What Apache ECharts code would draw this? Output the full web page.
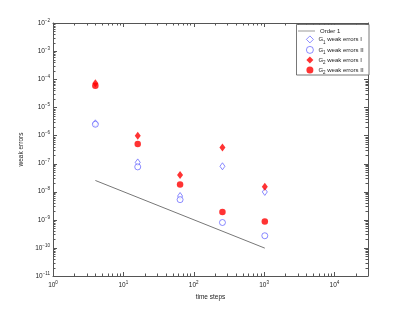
<!DOCTYPE html>
<html><head><meta charset="utf-8">
<script src="https://cdn.jsdelivr.net/npm/echarts@6/dist/echarts.min.js"></script>
<style>html,body{margin:0;padding:0;background:#fff}#c{width:407px;height:310px}</style>
</head><body><div id="c"></div>
<script>
const steps = [4, 16, 64, 256, 1024];
const g1WeakI  = [2.7e-6, 1.1e-7, 7.0e-9, 8.0e-8, 9.8e-9];
const g1WeakII = [2.5e-6, 7.6e-8, 5.2e-9, 8.0e-10, 2.7e-10];
const g2WeakI  = [7.2e-5, 9.8e-7, 3.9e-8, 3.7e-7, 1.5e-8];
const g2WeakII = [5.8e-5, 5.0e-7, 1.8e-8, 1.9e-9, 8.7e-10];
const orderX = [4, 1024];
const orderY = [2.5e-8, 9.8e-11];
const names = ['Order 1', 'G1 weak errors I', 'G1 weak errors II', 'G2 weak errors I', 'G2 weak errors II'];

const XMIN = 1, XMAX = 30000, YMIN = 1e-11, YMAX = 1e-2;
const FONT = 'Liberation Sans, Arial, sans-serif';
const AX = '#555';
const BLUE = '#4a4aff';

function pair(a, b) { return a.map((v, i) => [v, b[i]]); }
function expLabel(v) {
  const e = Math.round(Math.log10(v));
  return '{b|10}{s|' + (e < 0 ? '\u2212' + (-e) : e) + '}';
}
const richTick = {
  b: {fontSize: 6.5, fontFamily: FONT, color: '#222'},
  s: {fontSize: 4.5, fontFamily: FONT, color: '#222', verticalAlign: 'bottom', padding: [0, 0, 5, 0]}
};
const legendText = {fontSize: 6, lineHeight: 7, fontFamily: FONT, color: '#222',
  rich: {t: {fontSize: 6, lineHeight: 7, fontFamily: FONT, color: '#222'},
         u: {fontSize: 4.5, lineHeight: 7, fontFamily: FONT, color: '#222', verticalAlign: 'top', padding: [4, 0, 0, 0]}}};
function legendFmt(n) {
  const m = n.match(/^G(\d) (.*)$/);
  return m ? '{t|G}{u|' + m[1] + '}{t| ' + m[2] + '}' : '{t|' + n + '}';
}

const chart = echarts.init(document.getElementById('c'));
const axisCommon = {
  type: 'log', logBase: 10,
  axisLine: {show: true, lineStyle: {color: AX, width: 1}},
  axisTick: {show: false},
  splitLine: {show: false}, minorTick: {show: false}
};
chart.setOption({
  animation: false,
  textStyle: {fontFamily: FONT},
  grid: {left: 53, right: 39, top: 23, bottom: 34, containLabel: false},
  xAxis: [
    Object.assign({}, axisCommon, {min: XMIN, max: XMAX, interval: 1, position: 'bottom',
      name: 'time steps', nameLocation: 'middle', nameGap: 17,
      nameTextStyle: {fontSize: 6.5, color: '#222', fontFamily: FONT},
      axisLabel: {show: true, margin: 4, formatter: expLabel, rich: richTick, showMaxLabel: false}}),
    Object.assign({}, axisCommon, {min: XMIN, max: XMAX, interval: 1, position: 'top', axisLabel: {show: false}})
  ],
  yAxis: [
    Object.assign({}, axisCommon, {min: YMIN, max: YMAX, interval: 1, position: 'left',
      name: 'weak errors', nameLocation: 'middle', nameGap: 21,
      nameTextStyle: {fontSize: 6.5, color: '#222', fontFamily: FONT},
      axisLabel: {show: true, margin: 3, formatter: expLabel, rich: richTick}}),
    Object.assign({}, axisCommon, {min: YMIN, max: YMAX, interval: 1, position: 'right', axisLabel: {show: false}})
  ],
  legend: [
    {orient: 'vertical', left: 298, top: 27.5, itemWidth: 17, itemHeight: 7, padding: 0, z: 4,
     textStyle: legendText, formatter: legendFmt,
     data: [{name: names[0], icon: 'path://M0,0L20,0L20,1L0,1Z', itemStyle: {color: '#888'}}]},
    {orient: 'vertical', left: 306, top: 35.5, itemWidth: 7, itemHeight: 7, itemGap: 1.1, padding: 0, z: 4,
     textStyle: legendText, formatter: legendFmt,
     data: [
      {name: names[1], icon: 'diamond', itemStyle: {color: '#fff', borderColor: BLUE, borderWidth: 0.8}},
      {name: names[2], icon: 'circle', itemStyle: {color: '#fff', borderColor: BLUE, borderWidth: 0.8}},
      {name: names[3], icon: 'diamond'},
      {name: names[4], icon: 'circle'}
     ]}
  ],
  series: [
    {name: names[0], type: 'line', data: pair(orderX, orderY), showSymbol: false, symbol: 'none',
     lineStyle: {color: '#777', width: 1}, itemStyle: {color: '#777'}, z: 2},
    {name: names[1], type: 'scatter', data: pair(steps, g1WeakI), symbol: 'diamond', symbolSize: [5, 7],
     itemStyle: {color: '#fff', borderColor: BLUE, borderWidth: 0.8}, z: 3},
    {name: names[2], type: 'scatter', data: pair(steps, g1WeakII), symbol: 'circle', symbolSize: 6,
     itemStyle: {color: '#fff', borderColor: BLUE, borderWidth: 0.8}, z: 3},
    {name: names[3], type: 'scatter', data: pair(steps, g2WeakI), symbol: 'diamond', symbolSize: [6, 8],
     itemStyle: {color: '#ff0000'}, z: 4},
    {name: names[4], type: 'scatter', data: pair(steps, g2WeakII), symbol: 'circle', symbolSize: 6.5,
     itemStyle: {color: '#ff0000'}, z: 4}
  ]
});

// axis tick furniture (MATLAB-style inside ticks on all four sides), placed via the chart's own scales
const els = [];
const st = {stroke: AX, lineWidth: 1};
const pBL = chart.convertToPixel({gridIndex: 0}, [XMIN, YMIN]);
const pTR = chart.convertToPixel({gridIndex: 0}, [XMAX, YMAX]);
for (let e = 0; e <= 4; e++) for (let m = 1; m <= 9; m++) {
  const v = m * Math.pow(10, e); if (v >= XMAX) continue;
  const x = Math.round(chart.convertToPixel({gridIndex: 0}, [v, YMIN])[0]) + 0.5;
  const L = m === 1 ? 4 : 2.5;
  els.push({type: 'line', silent: true, z: 2, shape: {x1: x, y1: pBL[1], x2: x, y2: pBL[1] - L}, style: st});
  els.push({type: 'line', silent: true, z: 2, shape: {x1: x, y1: pTR[1], x2: x, y2: pTR[1] + L}, style: st});
}
for (let e = -11; e <= -3; e++) for (let m = 1; m <= 9; m++) {
  const v = m * Math.pow(10, e);
  const y = Math.round(chart.convertToPixel({gridIndex: 0}, [XMIN, v])[1]) + 0.5;
  const L = m === 1 ? 4 : 2.5;
  els.push({type: 'line', silent: true, z: 2, shape: {x1: pBL[0], y1: y, x2: pBL[0] + L, y2: y}, style: st});
  els.push({type: 'line', silent: true, z: 2, shape: {x1: pTR[0], y1: y, x2: pTR[0] - L, y2: y}, style: st});
}
// legend frame
els.push({type: 'rect', silent: true, z: 3, shape: {x: 296.5, y: 24.5, width: 72.5, height: 50.5},
  style: {fill: '#fff', stroke: AX, lineWidth: 0.8}});
chart.setOption({graphic: {elements: els}});
</script></body></html>
